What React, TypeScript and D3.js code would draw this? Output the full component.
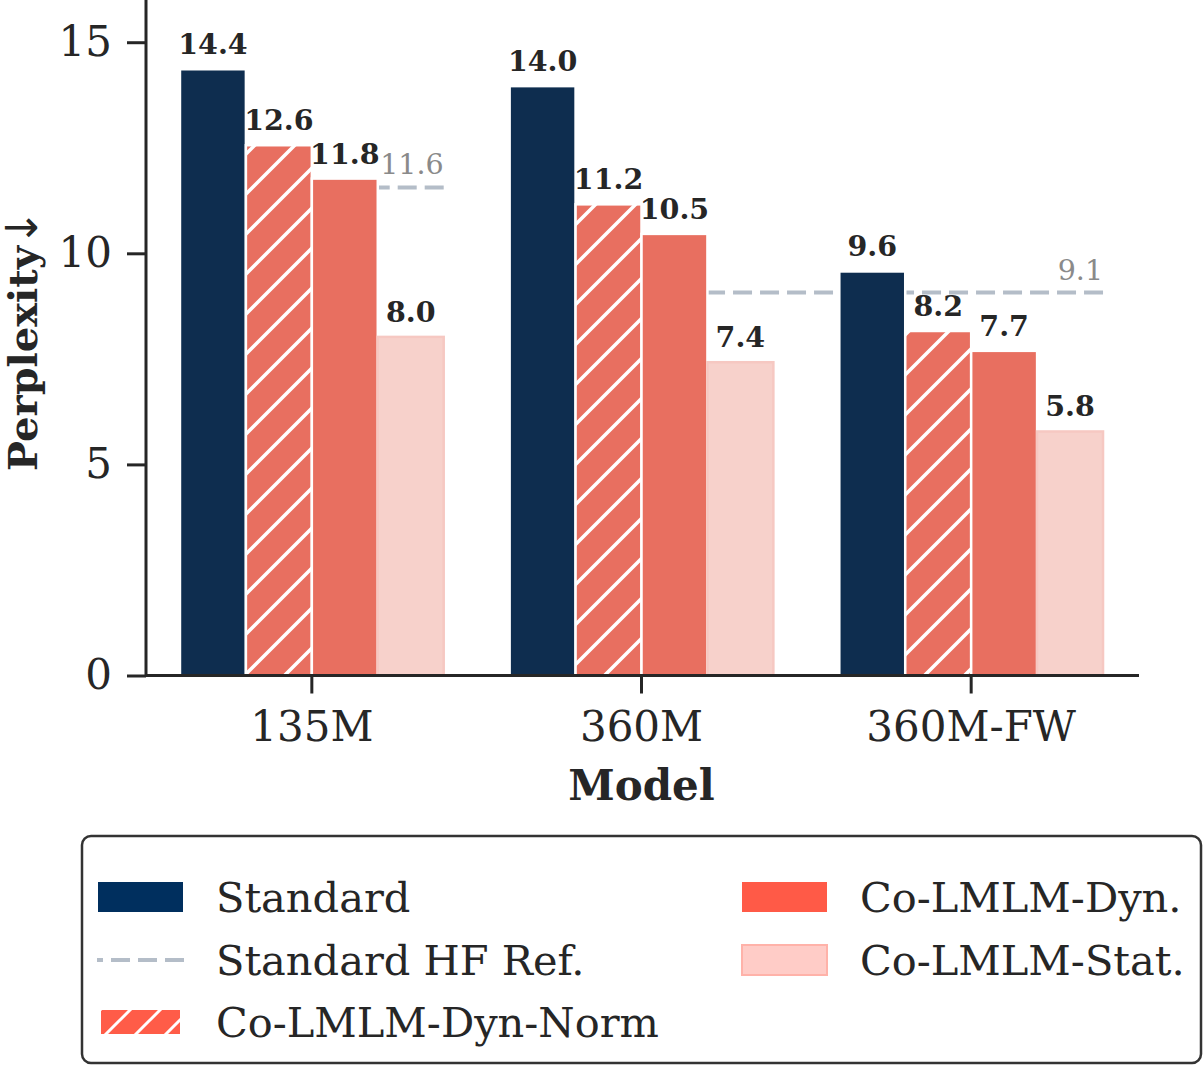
import React, { useRef, useEffect } from 'react';
import * as d3 from 'd3';

const models = ['135M', '360M', '360M-FW'];
const seriesNames = ['Standard', 'Co-LMLM-Dyn-Norm', 'Co-LMLM-Dyn.', 'Co-LMLM-Stat.'];
const standardVals = [14.36, 13.96, 9.57];
const dynNormVals = [12.56, 11.16, 8.16];
const dynVals = [11.77, 10.46, 7.69];
const statVals = [8.02, 7.42, 5.78];
const yTicks = [0, 5, 10, 15];

// HF reference lines: value, label, start (model, slot), end (model, slot)
const refValues = [11.56, 9.07];
const refLabels = ['11.6', '9.1'];
const refFrom = [['135M', 'Co-LMLM-Stat.'], ['360M', 'Co-LMLM-Stat.']];
const refTo = [['135M', 'Co-LMLM-Stat.'], ['360M-FW', 'Co-LMLM-Stat.']];

const FONT = '"DejaVu Serif", serif';
const INK = '#262626';

export default function App() {
  const ref = useRef<SVGSVGElement>(null);

  useEffect(() => {
    const width = 1204;
    const height = 1066;
    const svg = d3.select(ref.current).attr('width', width).attr('height', height);
    svg.selectAll('*').remove();

    const x0 = d3.scaleBand().domain(models).range([147, 1136]).padding(0);
    const x1 = d3.scaleBand().domain(seriesNames)
      .range([x0.bandwidth() * 0.1, x0.bandwidth() * 0.9]).padding(0);
    const y = d3.scaleLinear().domain([0, 16]).range([675.5, 0]);

    const defs = svg.append('defs');
    const mkHatch = (id: string, color: string, size: number, sw: number) => {
      const p = defs.append('pattern').attr('id', id)
        .attr('patternUnits', 'userSpaceOnUse')
        .attr('width', size).attr('height', size);
      p.append('rect').attr('width', size).attr('height', size).attr('fill', color);
      p.append('path')
        .attr('d', `M${-size / 4},${size / 4}L${size / 4},${-size / 4}M0,${size}L${size},0M${size * 0.75},${size * 1.25}L${size * 1.25},${size * 0.75}`)
        .attr('stroke', 'white').attr('stroke-width', sw);
    };
    mkHatch('hatchBar', '#E86F60', 40, 3.5);
    mkHatch('hatchLeg', '#FF5C48', 30, 3);

    const barFill: Record<string, string> = {
      'Standard': '#0E2D4F',
      'Co-LMLM-Dyn-Norm': 'url(#hatchBar)',
      'Co-LMLM-Dyn.': '#E86F60',
      'Co-LMLM-Stat.': '#F7D1CB',
    };
    const barStroke: Record<string, string> = {
      'Standard': 'white',
      'Co-LMLM-Dyn-Norm': 'white',
      'Co-LMLM-Dyn.': 'white',
      'Co-LMLM-Stat.': '#F6C8C2',
    };
    const valuesBy: Record<string, number[]> = {
      'Standard': standardVals,
      'Co-LMLM-Dyn-Norm': dynNormVals,
      'Co-LMLM-Dyn.': dynVals,
      'Co-LMLM-Stat.': statVals,
    };

    const rows = models.flatMap((m, i) => seriesNames.map(s => ({ model: m, series: s, value: valuesBy[s][i] })));

    // reference lines (behind bars)
    const refG = svg.append('g');
    refValues.forEach((v, i) => {
      const xa = (x0(refFrom[i][0]) as number) + (x1(refFrom[i][1]) as number);
      const xb = (x0(refTo[i][0]) as number) + (x1(refTo[i][1]) as number) + x1.bandwidth();
      refG.append('line')
        .attr('x1', xb).attr('x2', xa)
        .attr('y1', y(v)).attr('y2', y(v))
        .attr('stroke', '#B4BDC8').attr('stroke-width', 4)
        .attr('stroke-dasharray', '19 8');
      refG.append('text')
        .attr('x', xb).attr('y', y(v) - 13)
        .attr('text-anchor', 'end')
        .attr('font-family', FONT).attr('font-size', 28.5)
        .attr('fill', '#8A8A8A')
        .text(refLabels[i]);
    });

    const barG = svg.append('g');
    barG.selectAll('rect')
      .data(rows)
      .enter()
      .append('rect')
      .attr('x', d => (x0(d.model) as number) + (x1(d.series) as number))
      .attr('width', x1.bandwidth())
      .attr('y', d => y(d.value))
      .attr('height', d => y(0) - y(d.value))
      .attr('fill', d => barFill[d.series])
      .attr('stroke', d => barStroke[d.series])
      .attr('stroke-width', 2.5);

    barG.selectAll('text')
      .data(rows)
      .enter()
      .append('text')
      .attr('x', d => (x0(d.model) as number) + (x1(d.series) as number) + x1.bandwidth() / 2)
      .attr('y', d => y(d.value) - 15)
      .attr('text-anchor', 'middle')
      .attr('font-family', FONT).attr('font-weight', 'bold').attr('font-size', 28.5)
      .attr('fill', INK)
      .text(d => d.value.toFixed(1));

    // spines
    svg.append('line').attr('x1', 146).attr('x2', 146).attr('y1', 0).attr('y2', y(0) + 1.5)
      .attr('stroke', INK).attr('stroke-width', 3);
    svg.append('line').attr('x1', 146).attr('x2', 1139).attr('y1', y(0)).attr('y2', y(0))
      .attr('stroke', INK).attr('stroke-width', 3);

    // y ticks
    const yAxis = svg.append('g').attr('transform', 'translate(146,0)')
      .call(d3.axisLeft(y).tickValues(yTicks).tickSize(19).tickPadding(15).tickFormat(d3.format('d')));
    yAxis.select('.domain').remove();
    yAxis.selectAll('line').attr('stroke', INK).attr('stroke-width', 3);
    yAxis.selectAll('text').attr('font-family', FONT).attr('font-size', 42).attr('fill', INK);

    // x ticks
    const xAxis = svg.append('g').attr('transform', `translate(0,${y(0)})`)
      .call(d3.axisBottom(x0).tickSize(18).tickPadding(18));
    xAxis.select('.domain').remove();
    xAxis.selectAll('line').attr('stroke', INK).attr('stroke-width', 3);
    xAxis.selectAll('text').attr('font-family', FONT).attr('font-size', 42).attr('fill', INK);

    svg.append('text')
      .attr('x', x0('360M')! + x0.bandwidth() / 2).attr('y', 800)
      .attr('text-anchor', 'middle')
      .attr('font-family', FONT).attr('font-weight', 'bold').attr('font-size', 42)
      .attr('fill', INK).text('Model');

    const yl = svg.append('text')
      .attr('transform', 'translate(37,340) rotate(-90)')
      .attr('text-anchor', 'middle')
      .attr('font-family', FONT).attr('font-weight', 'bold').attr('font-size', 40)
      .attr('fill', INK);
    yl.append('tspan').text('Perplexity');
    yl.append('tspan').attr('font-family', '"DejaVu Sans", sans-serif').attr('font-weight', 'normal').attr('font-size', 44).text('↓');

    // legend
    const leg = svg.append('g');
    leg.append('rect').attr('x', 82).attr('y', 836).attr('width', 1119).attr('height', 227)
      .attr('rx', 9).attr('fill', 'white').attr('stroke', '#333').attr('stroke-width', 2.5);

    const legItems = [
      { label: 'Standard', kind: 'patch', fill: '#002F5E', stroke: 'none', col: 0, row: 0 },
      { label: 'Standard HF Ref.', kind: 'line', fill: '#B4BDC8', stroke: 'none', col: 0, row: 1 },
      { label: 'Co-LMLM-Dyn-Norm', kind: 'hatch', fill: 'url(#hatchLeg)', stroke: 'white', col: 0, row: 2 },
      { label: 'Co-LMLM-Dyn.', kind: 'patch', fill: '#FF5A47', stroke: 'none', col: 1, row: 0 },
      { label: 'Co-LMLM-Stat.', kind: 'patch', fill: '#FFCCC7', stroke: '#FFB2A9', col: 1, row: 1 },
    ];
    const colX = [97, 741];
    const rowY = [897, 960, 1022];
    legItems.forEach(it => {
      const px = colX[it.col];
      const cy = rowY[it.row];
      if (it.kind === 'line') {
        leg.append('line').attr('x1', px + 87).attr('x2', px).attr('y1', cy).attr('y2', cy)
          .attr('stroke', it.fill).attr('stroke-width', 4).attr('stroke-dasharray', '19 8');
      } else if (it.kind === 'hatch') {
        leg.append('rect').attr('x', px + 4).attr('y', cy - 12).attr('width', 79).attr('height', 24)
          .attr('fill', it.fill);
      } else {
        leg.append('rect').attr('x', px + 1).attr('y', cy - 15).attr('width', 85).attr('height', 30)
          .attr('fill', it.fill).attr('stroke', it.stroke).attr('stroke-width', 2);
      }
      leg.append('text').attr('x', px + 119).attr('y', cy + 15)
        .attr('font-family', FONT).attr('font-size', 41.5).attr('fill', INK)
        .text(it.label);
    });
  }, []);

  return (
    <div>
      <style>{'body{margin:0}'}</style>
      <svg ref={ref} style={{ display: 'block' }} />
    </div>
  );
}
